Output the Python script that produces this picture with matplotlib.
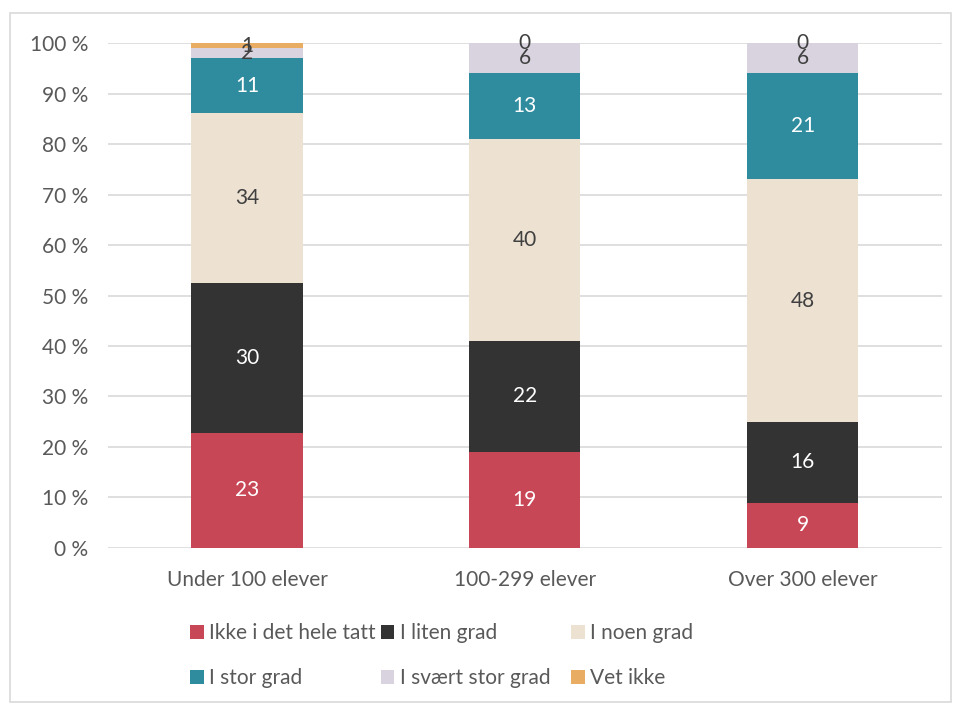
import numpy as np
import matplotlib.pyplot as plt
from matplotlib.patches import Rectangle

plt.rcParams['font.family'] = ['Lato', 'DejaVu Sans']

categories = ["Under 100 elever", "100-299 elever", "Over 300 elever"]
series = ["Ikke i det hele tatt", "I liten grad", "I noen grad",
          "I stor grad", "I svært stor grad", "Vet ikke"]
ikke = [23, 19, 9]
liten = [30, 22, 16]
noen = [34, 40, 48]
stor = [11, 13, 21]
svaert_stor = [2, 6, 6]
vet_ikke = [1, 0, 0]

colors = ["#C84756", "#333333", "#EDE1D2", "#2E8C9E", "#D9D3E0", "#E8AD62"]
label_colors = ["white", "white", "#404040", "white", "#404040", "#404040"]

values = np.array([ikke, liten, noen, stor, svaert_stor, vet_ikke], dtype=float)
## 100 % stacked: normalise each column
share = values / values.sum(axis=0) * 100

fs = 15

fig = plt.figure(figsize=(9.57, 7.04), dpi=100)
ax = fig.add_axes([0.1129, 0.2216, 0.871, 0.7173])

x = np.arange(len(categories))
bottom = np.zeros(len(categories))
handles = []
for i, name in enumerate(series):
    bars = ax.bar(x, share[i], 0.4, bottom=bottom, color=colors[i], label=name, zorder=2)
    handles.append(bars)
    for j in range(len(categories)):
        ax.text(x[j], bottom[j] + share[i][j] / 2, "%d" % values[i][j],
                ha="center", va="center", fontsize=fs, color=label_colors[i], zorder=3)
    bottom += share[i]

ax.set_xlim(-0.5, 2.5)
ax.set_ylim(0, 100)
ax.set_yticks(np.arange(0, 101, 10))
ax.set_yticklabels(["%d %%" % v for v in range(0, 101, 10)])
ax.set_xticks(x)
ax.set_xticklabels(categories)
ax.tick_params(axis="both", length=0, labelsize=fs, labelcolor="#595959")
ax.tick_params(axis="y", pad=14)
ax.tick_params(axis="x", pad=16)
ax.grid(axis="y", color="#D9D9D9", linewidth=1.2, zorder=0)
for s in ["top", "right", "left", "bottom"]:
    ax.spines[s].set_visible(False)

## legend as three equal-width columns, row by row like Excel
col_x = [0.199, 0.398, 0.597]
for c in range(3):
    idx = [c, c + 3]
    leg = fig.legend([handles[k] for k in idx], [series[k] for k in idx],
                     loc="upper left", bbox_to_anchor=(col_x[c], 0.115),
                     frameon=False, fontsize=fs, handlelength=0.65, handleheight=0.65,
                     handletextpad=0.25, labelspacing=1.2,
                     borderaxespad=0, borderpad=0)
    for t in leg.get_texts():
        t.set_color("#595959")

fig.patches.append(Rectangle((0.0105, 0.003), 0.983, 0.979, transform=fig.transFigure,
                             fill=False, edgecolor="#D9D9D9", linewidth=1.2))

fig.savefig("out.png", dpi=100)
